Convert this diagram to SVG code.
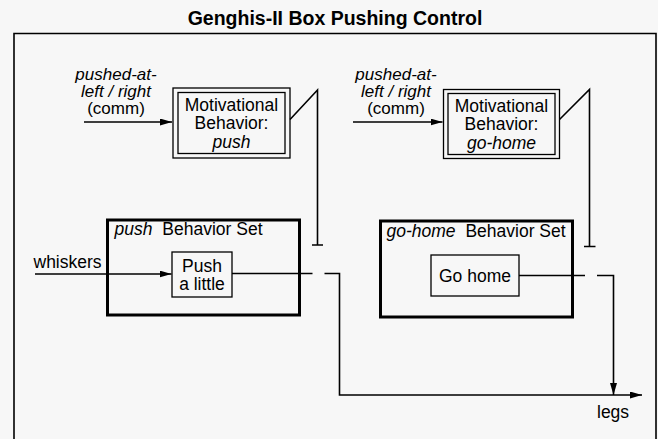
<svg xmlns="http://www.w3.org/2000/svg" width="658" height="439" viewBox="0 0 658 439">
<style>
text{font-family:"Liberation Sans",Arial,sans-serif;font-size:17.5px;fill:#000}
.it{font-style:italic}
.mid{text-anchor:middle}
.lab{font-size:17px}
.title{font-weight:bold;font-size:19.5px}
.thin{fill:none;stroke:#000;stroke-width:1.3}
.thick{fill:none;stroke:#000;stroke-width:3}
.ln{fill:none;stroke:#000;stroke-width:1.6}
</style>
<defs>
<marker id="ah" markerUnits="userSpaceOnUse" markerWidth="13" markerHeight="8" refX="12" refY="3.5" orient="auto">
<path d="M0,0 L12,3.5 L0,7 z" fill="#000"/>
</marker>
</defs>
<rect width="658" height="439" fill="#f7f7f7"/>
<text class="title mid" x="335" y="25">Genghis-II Box Pushing Control</text>
<path id="frame" class="ln" d="M14,440 V33.5 H656 V440"/>

<g id="label-push-comm">
<text class="lab it mid" x="116" y="79.5">pushed-at-</text>
<text class="lab it mid" x="116" y="96.5">left / right</text>
<text class="lab mid" x="116" y="113.5">(comm)</text>
</g>
<g id="label-gohome-comm">
<text class="lab it mid" x="396" y="80">pushed-at-</text>
<text class="lab it mid" x="396" y="97">left / right</text>
<text class="lab mid" x="396" y="114">(comm)</text>
</g>

<g id="mot-push">
<rect class="thin" x="173" y="88" width="117" height="70"/>
<rect class="thin" x="178" y="92.5" width="107" height="61"/>
<text class="mid" x="231.5" y="110.5">Motivational</text>
<text class="mid" x="231.5" y="129">Behavior:</text>
<text class="mid it" x="231.5" y="147.5">push</text>
</g>
<g id="mot-gohome">
<rect class="thin" x="443.5" y="89.5" width="116" height="69"/>
<rect class="thin" x="448" y="93.5" width="107" height="61"/>
<text class="mid" x="501.5" y="111.5">Motivational</text>
<text class="mid" x="501.5" y="130">Behavior:</text>
<text class="mid it" x="501.5" y="148.5">go-home</text>
</g>

<g id="set-push">
<rect class="thick" x="107.5" y="220" width="192" height="95"/>
<text x="114.5" y="235"><tspan class="it">push</tspan><tspan dx="5"> Behavior Set</tspan></text>
</g>
<g id="node-push-a-little">
<rect class="thin" x="172" y="252" width="60" height="45"/>
<text class="mid" x="202" y="271.5">Push</text>
<text class="mid" x="202" y="289.5">a little</text>
</g>
<g id="set-gohome">
<rect class="thick" x="380.5" y="221" width="192" height="96"/>
<text x="386.5" y="237"><tspan class="it">go-home</tspan><tspan dx="5"> Behavior Set</tspan></text>
</g>
<g id="node-go-home">
<rect class="thin" x="431" y="255" width="88" height="41"/>
<text class="mid" x="475" y="281.5">Go home</text>
</g>

<g id="label-whiskers"><text x="33.5" y="267.5">whiskers</text></g>
<g id="label-legs"><text x="597" y="417.5">legs</text></g>

<g id="connectors">
<path class="ln" d="M84,122 H172" marker-end="url(#ah)"/>
<path class="ln" d="M353,122 H442.5" marker-end="url(#ah)"/>
<path class="ln" d="M35,274 H171.5" marker-end="url(#ah)"/>
<path class="ln" d="M290,119.5 L317.5,90 V245 M312,245 H323"/>
<path class="ln" d="M559.5,119.5 L589.5,89.5 V246.5 M584,246.5 H595.5"/>
<path class="ln" d="M232,273.5 H312.5"/>
<path class="ln" d="M324.5,273.5 H339.5 V395 H642" marker-end="url(#ah)"/>
<path class="ln" d="M519,275.5 H585"/>
<path class="ln" d="M597,275.5 H613.5 V395" marker-end="url(#ah)"/>
</g>
</svg>
